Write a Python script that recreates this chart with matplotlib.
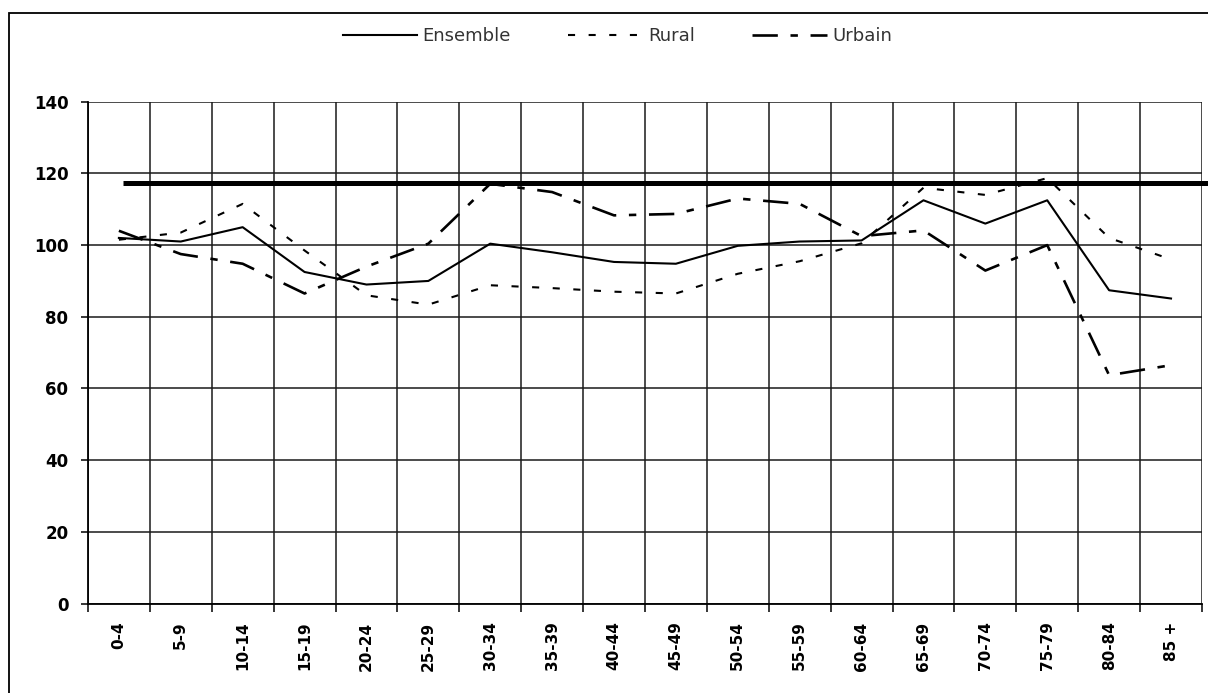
import numpy as np
import matplotlib
matplotlib.use("Agg")
import matplotlib.pyplot as plt
from matplotlib.patches import Rectangle

# age groups and ratios
groups = ['0-4', '5-9', '10-14', '15-19', '20-24', '25-29', '30-34', '35-39',
          '40-44', '45-49', '50-54', '55-59', '60-64', '65-69', '70-74',
          '75-79', '80-84', '85 +']
ensemble = [102, 101, 105, 92.5, 89, 90, 100.4, 98, 95.3, 94.8, 99.8, 101,
            101.3, 112.5, 106, 112.5, 87.4, 85.1]
rural = [101.5, 103.5, 111.5, 98.5, 86, 83.4, 88.8, 88, 87, 86.5, 92, 95.5,
         100.5, 116, 114, 118.7, 102, 96]
urbain = [104, 97.5, 94.8, 86.5, 94, 100.4, 117.1, 114.8, 108.3, 108.7, 113,
          111.5, 102.5, 104.1, 92.9, 100, 63.7, 66.5]
reference = 117.3

plt.rcParams['font.family'] = ['DejaVu Sans']

fig = plt.figure(figsize=(12.08, 6.93), dpi=100)
ax = fig.add_axes([0.0728, 0.1291, 0.995 - 0.0728, 0.8532 - 0.1291])

x = np.arange(len(groups))
ax.plot(x, ensemble, color='black', lw=1.5, label='Ensemble')
ax.plot(x, rural, color='black', lw=1.5, linestyle=(0, (3.4, 6.5)), label='Rural')
ax.plot(x, urbain, color='black', lw=1.9, linestyle=(0, (9.6, 4.8, 2.8, 4.8)),
        label='Urbain')
ax.plot([0.07, len(groups) - 0.4], [reference, reference], color='black',
        lw=3.6, solid_capstyle='butt', clip_on=False)

ax.set_xlim(-0.5, len(groups) - 0.5)
ax.set_ylim(0, 140)
ax.set_yticks(np.arange(0, 141, 20))
ax.set_xticks(x)
ax.set_xticklabels(groups, rotation=90, fontweight='bold', fontsize=11)
ax.set_xticks(np.arange(-0.5, len(groups), 1), minor=True)
ax.tick_params(axis='x', which='major', length=0, pad=13)
ax.tick_params(axis='x', which='minor', length=6, width=1.1, direction='out')
ax.tick_params(axis='y', length=5, width=1.1, pad=9, labelsize=12)
for lab in ax.get_yticklabels():
    lab.set_fontweight('bold')

ax.grid(True, which='minor', axis='x', color='#1a1a1a', lw=1.1)
ax.grid(True, which='major', axis='y', color='#1a1a1a', lw=1.1)
for s in ['top', 'right']:
    ax.spines[s].set_visible(False)
for s in ['left', 'bottom']:
    ax.spines[s].set_linewidth(1.3)

leg = ax.legend(loc='center', bbox_to_anchor=(0.511, 0.948),
                bbox_transform=fig.transFigure, ncol=3, frameon=False,
                fontsize=13, handlelength=4.1, handletextpad=0.3,
                columnspacing=3.2)
for t in leg.get_texts():
    t.set_color('#333333')

# outer frame around the whole chart
fig.patches.append(Rectangle((9 / 1208, -0.05), 1.1, 1 - 13 / 693 + 0.05,
                             transform=fig.transFigure, fill=False,
                             edgecolor='black', lw=1.3))

fig.savefig('out.png', dpi=100)
